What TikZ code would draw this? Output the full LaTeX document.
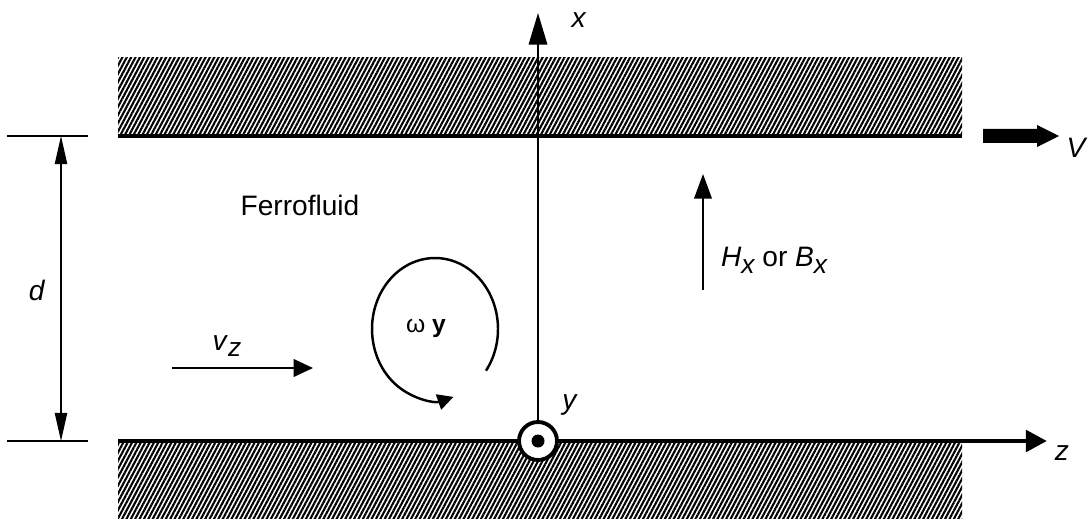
\documentclass[tikz,border=0pt]{standalone}
\usepackage{fontspec}
\setmainfont{Liberation Sans}
\usetikzlibrary{arrows.meta,patterns.meta,positioning}
\tikzset{
  wall/.style={
    line width = 2.8pt
  },
  hatch/.style={
    pattern = {Lines[angle=62,distance=2.2pt,line width=1.2pt]}
  },
  axis/.style={
    line width = 1.1pt
  },
  dimline/.style={
    line width = 0.8pt
  },
  origin/.style={
    shape = circle,
    draw,
    fill = white,
    line width = 2.2pt,
    minimum size = 0.76cm,
    inner sep = 0pt
  },
  lbl/.style={
    font = \fontsize{16}{19}\selectfont,
    inner sep = 1pt
  },
}
\newcommand{\lowidx}[1]{\raisebox{-0.45ex}{\fontsize{15}{17}\selectfont\itshape #1}}

\begin{document}
\begin{tikzpicture}[x=0.02cm,y=0.02cm]
  \useasboundingbox (0,0) rectangle (1091,518);
  % plates
  \fill[hatch] (118,382) rectangle (962,460);
  \fill[hatch] (118,0) rectangle (962,77);
  \draw[wall] (118,382) -- (962,382);
  \coordinate (ztip) at (1047,77);
  \draw[wall,-{Triangle[length=12pt,width=12pt]}] (118,77) -- (ztip);
  % axes
  \node[origin] (o) at (538,77) {};
  \fill (o) circle (0.13cm);
  \coordinate (xtip) at (538,505);
  \draw[axis,-{Triangle[length=18pt,width=10.5pt]}] (o.north) -- (xtip);
  \node[lbl] (xl) at (579,498) {\textit{x}};
  \node[lbl] (yl) at (570,113) {\textit{y}};
  \node[lbl] (zl) at (1062,65) {\textit{z}};
  % gap d
  \foreach \y in {77,382}{
    \draw[dimline] (7,\y) -- (88,\y);
  }
  \coordinate (dtop) at (61,382);
  \coordinate (dbot) at (61,77);
  \draw[dimline,{Triangle[length=16pt,width=7pt]}-{Triangle[length=16pt,width=7pt]}] (dtop) -- (dbot);
  \node[lbl] (d) at (37,228) {\textit{d}};
  % fluid
  \node[lbl] (fluid) at (300,313) {Ferrofluid};
  \coordinate (hfoot) at (703,228);
  \coordinate (htip) at (703,344);
  \draw[axis,-{Triangle[length=14pt,width=10pt]}] (hfoot) -- (htip);
  \node[lbl,anchor=west] (hl) at (719,258) {\textit{H}\lowidx{x} or \textit{B}\lowidx{x}};
  \coordinate (vfoot) at (172,150);
  \coordinate (vtip) at (313,150);
  \draw[axis,-{Triangle[length=11pt,width=10pt]}] (vfoot) -- (vtip);
  \node[lbl] (vl) at (227,172) {\textit{v}\lowidx{z}};
  % spin
  \coordinate (wc) at (435,189);
  \draw[line width=1.4pt,-{Triangle[length=9pt,width=9pt]}] ([shift={(-36:1.26cm and 1.42cm)}]wc)
    arc[start angle=-36, end angle=287, x radius=1.26cm, y radius=1.42cm];
  \node[font=\fontsize{14}{16}\selectfont] (wl) at (426,190) {ω \textbf{y}};
  % moving wall
  \fill (983,375) -- (1037,375) -- (1037,371) -- (1059,382) -- (1037,393)
    -- (1037,389) -- (983,389) -- cycle;
  \node[lbl] (vw) at (1077,370) {\textit{V}};
\end{tikzpicture}
\end{document}
